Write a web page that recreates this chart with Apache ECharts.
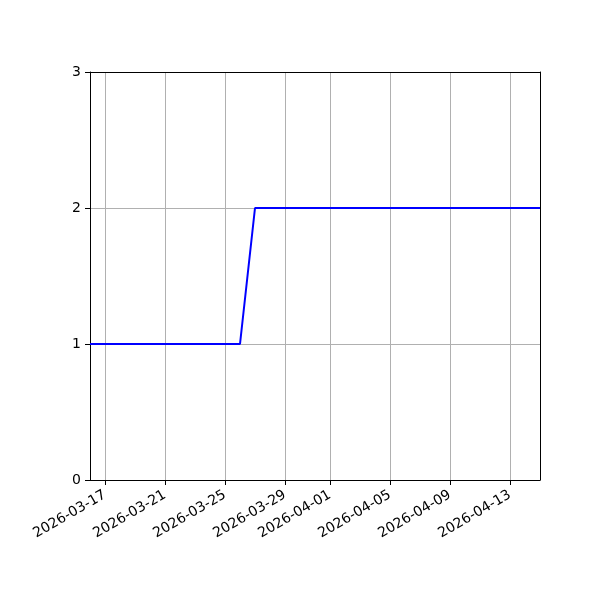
<!DOCTYPE html>
<html>
<head>
<meta charset="utf-8">
<script src="https://cdn.jsdelivr.net/npm/echarts@6/dist/echarts.min.js"></script>
<style>html,body{margin:0;padding:0;background:#fff}#c{width:600px;height:600px}</style>
</head>
<body>
<div id="c"></div>
<script>
const dates = [
  '2026-03-16','2026-03-17','2026-03-18','2026-03-19','2026-03-20','2026-03-21','2026-03-22','2026-03-23',
  '2026-03-24','2026-03-25','2026-03-26','2026-03-27','2026-03-28','2026-03-29','2026-03-30','2026-03-31',
  '2026-04-01','2026-04-02','2026-04-03','2026-04-04','2026-04-05','2026-04-06','2026-04-07','2026-04-08',
  '2026-04-09','2026-04-10','2026-04-11','2026-04-12','2026-04-13','2026-04-14','2026-04-15'
];
const values = [1,1,1,1,1,1,1,1,1,1,1,2,2,2,2,2,2,2,2,2,2,2,2,2,2,2,2,2,2,2,2];
const tickDays = [1,5,9,13,17,21,25,29];
const yTicks = [0,1,2,3];

const isTick = (i) => tickDays.indexOf(parseInt(dates[i].slice(8),10)) >= 0;
const font = 'DejaVu Sans';
const spine = {show: true, onZero: false, lineStyle: {color: '#000', width: 1}};
const chart = echarts.init(document.getElementById('c'));
chart.setOption({
  animation: false,
  grid: {left: 90, right: 60, top: 72, bottom: 120},
  xAxis: [{
    type: 'category', data: dates, boundaryGap: false,
    axisLine: spine,
    axisTick: {show: true, interval: isTick, length: 5, lineStyle: {color: '#000', width: 1}},
    axisLabel: {interval: isTick, rotate: 30, color: '#000', fontFamily: font, fontSize: 14, margin: 14},
    splitLine: {show: true, interval: isTick, lineStyle: {color: '#b0b0b0', width: 1}}
  }, {
    type: 'category', data: dates, boundaryGap: false, position: 'top',
    axisLine: spine, axisTick: {show: false}, axisLabel: {show: false}, splitLine: {show: false}
  }],
  yAxis: [{
    type: 'value', min: 0, max: 3, interval: 1,
    axisLine: spine,
    axisTick: {show: true, length: 5, lineStyle: {color: '#000', width: 1}},
    axisLabel: {color: '#000', fontFamily: font, fontSize: 14, margin: 9,
      formatter: (v) => yTicks.indexOf(v) >= 0 ? String(v) : ''},
    splitLine: {show: true, lineStyle: {color: '#b0b0b0', width: 1}}
  }, {
    type: 'value', min: 0, max: 3, interval: 1, position: 'right',
    axisLine: spine, axisTick: {show: false}, axisLabel: {show: false}, splitLine: {show: false}
  }],
  series: [{
    type: 'line', data: values, showSymbol: false, symbol: 'none', z: 10,
    lineStyle: {color: '#0000ff', width: 2}, itemStyle: {color: '#0000ff'}
  }]
});
</script>
</body>
</html>
